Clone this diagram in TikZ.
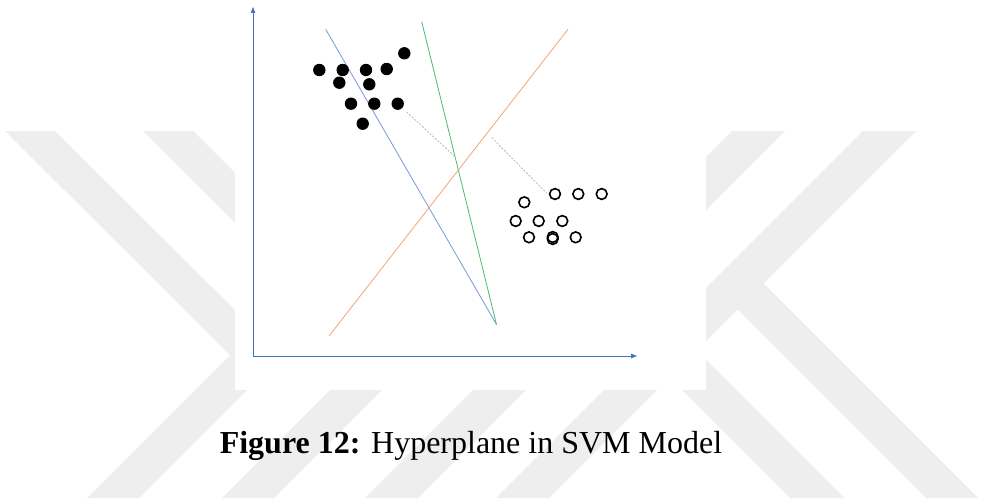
\documentclass[tikz,border=0pt]{standalone}
\usepackage{fontspec}
\setmainfont{Liberation Serif}
\usetikzlibrary{arrows.meta}
\definecolor{wm}{RGB}{238,238,238}
\definecolor{axisblue}{RGB}{68,114,196}
\definecolor{hpblue}{RGB}{120,152,214}
\definecolor{hpgreen}{RGB}{70,190,110}
\definecolor{hporange}{RGB}{244,165,120}
\definecolor{margingray}{RGB}{165,165,165}
\begin{document}
\begin{tikzpicture}[x=1pt,y=-1pt,
  band/.style={fill=wm,draw=none},
  axisline/.style={draw=axisblue,line width=0.9pt,-{Triangle[length=6pt,width=4.5pt]}},
  hyper/.style={line width=0.8pt},
  marginline/.style={draw=margingray,line width=0.6pt,dash pattern=on 2pt off 1.5pt},
  posdot/.style={circle,fill=black,inner sep=0pt,outer sep=0pt,minimum size=12.4pt},
  negdot/.style={circle,draw=black,line width=1.6pt,inner sep=0pt,outer sep=0pt,minimum size=10.8pt},
  captext/.style={font=\fontsize{32}{38}\selectfont,anchor=base,inner sep=0pt}]
\useasboundingbox (0,0) rectangle (985,503);
\fill[white] (0,0) rectangle (985,503);
% watermark bands
\fill[band] (5,131) -- (55,131) -- (262.5,337.5) -- (237.5,362.5) -- cycle;
\fill[band] (87,498) -- (139,498) -- (506,131) -- (454,131) -- cycle;
\fill[band] (143,131) -- (193,131) -- (399,336) -- (374,361) -- cycle;
\fill[band] (222,498) -- (274,498) -- (641,131) -- (589,131) -- cycle;
\fill[band] (365,498) -- (418,498) -- (785,131) -- (732,131) -- cycle;
\fill[band] (620.5,274.5) -- (844,498) -- (790,498) -- (593.5,301.5) -- cycle;
\fill[band] (496,498) -- (549,498) -- (916,131) -- (863,131) -- cycle;
\fill[band] (752.5,272.5) -- (978,498) -- (926,498) -- (726.5,298.5) -- cycle;
% white panel
\fill[white] (235,0) rectangle (706,390);
% hyperplanes
\coordinate (apex) at (496.5,324.5);
\coordinate (blueTop) at (325.7,29.3);
\coordinate (greenTop) at (421.7,21.7);
\coordinate (orangeLow) at (329.3,335.7);
\coordinate (orangeHigh) at (568,29.3);
\draw[hyper,hpblue] (blueTop) -- (apex);
\draw[hyper,hpgreen] (greenTop) -- (apex);
\draw[hyper,hporange] (orangeLow) -- (orangeHigh);
% class 1 (filled)
\node[posdot] (p1) at (319.3,70) {};
\node[posdot] (p2) at (342.7,70) {};
\node[posdot] (p3) at (366,70) {};
\node[posdot] (p4) at (386.7,69) {};
\node[posdot] (p5) at (404.3,53.3) {};
\node[posdot] (p6) at (339.3,82.7) {};
\node[posdot] (p7) at (369.3,84.3) {};
\node[posdot] (p8) at (351,103.7) {};
\node[posdot] (p9) at (374.3,103.7) {};
\node[posdot] (p10) at (397.7,103.7) {};
\node[posdot] (p11) at (362.7,123.7) {};
% class 2 (hollow)
\node[negdot] (n1) at (555,194) {};
\node[negdot] (n2) at (578.3,194) {};
\node[negdot] (n3) at (601.7,194) {};
\node[negdot] (n4) at (524.3,202.3) {};
\node[negdot] (n5) at (515.7,221) {};
\node[negdot] (n6) at (538.7,221) {};
\node[negdot] (n7) at (562.3,221) {};
\node[negdot] (n8) at (529,237.3) {};
\node[negdot] (n9) at (552.7,237) {};
\node[negdot] (n9b) at (552.7,239) {};
\node[negdot] (n10) at (575.7,237.3) {};
% margins
\coordinate (m1) at (454.8,156.5);
\coordinate (m2a) at (491.7,137.7);
\coordinate (m2b) at (546.7,193.3);
\draw[marginline,shorten <=6pt] (p10) -- (m1);
\draw[marginline] (m2a) -- (m2b);
% axes
\coordinate (O) at (253,356);
\coordinate (ytip) at (253,7);
\coordinate (xtip) at (637,356);
\draw[axisline] (O) -- (ytip);
\draw[axisline] (O) -- (xtip);
% caption
\node[captext] (cap) at (471,453) {\textbf{Figure 12:} Hyperplane in SVM Model};
\end{tikzpicture}
\end{document}
